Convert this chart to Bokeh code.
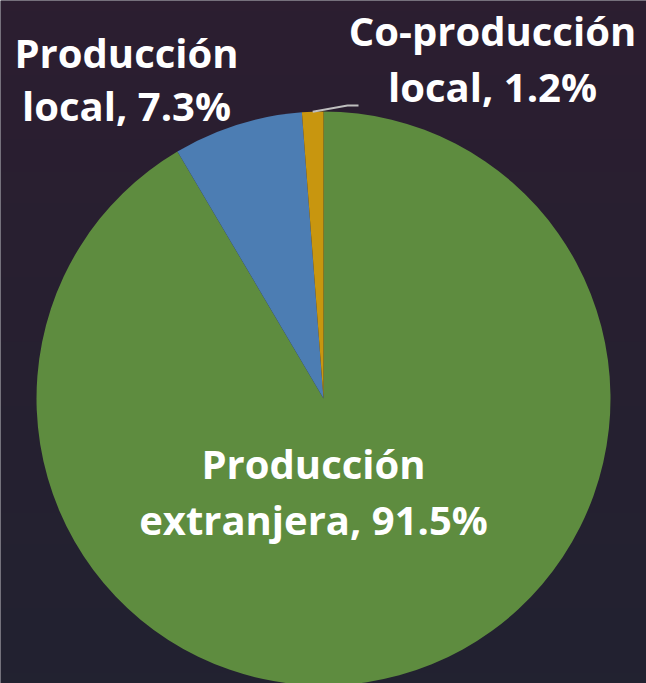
from bokeh.plotting import figure
from bokeh.models import ColumnDataSource, Range1d
from bokeh.core.properties import value
from bokeh.embed import file_html
from bokeh.resources import INLINE
import numpy as np

categories = ["Producción extranjera", "Producción local", "Co-producción local"]
shares = [91.5, 7.3, 1.2]
label_lines = [["Producción", "extranjera, 91.5%"], ["Producción", "local, 7.3%"], ["Co-producción", "local, 1.2%"]]
colors = ["#5e8c3f", "#4c7db3", "#c8960f"]

W, H = 646, 683
cx, cy, r = 323, H - 398, 287

vals = np.array(shares, dtype=float)
frac = vals / vals.sum()
cum_end = np.cumsum(frac)
cum_start = cum_end - frac
start = np.pi / 2 - cum_end * 2 * np.pi
end = np.pi / 2 - cum_start * 2 * np.pi

src = ColumnDataSource(dict(cat=categories, start=start, end=end, color=colors))

p = figure(width=W, height=H, x_range=Range1d(0, W), y_range=Range1d(0, H),
           output_backend="svg", toolbar_location=None, min_border=0)
p.axis.visible = False
p.grid.visible = False
p.outline_line_color = None
p.background_fill_color = "#231e2e"
p.border_fill_color = "#231e2e"

# subtle background gradient (decorative)
ny = 64
grad = np.zeros((ny, 1), dtype=np.uint32)
view = grad.view(dtype=np.uint8).reshape((ny, 1, 4))
for i in range(ny):
    t = i / (ny - 1)  # 0 bottom -> 1 top
    rr = int(0x22 + (0x2c - 0x22) * t)
    gg = int(0x22 + (0x1e - 0x22) * t)
    bb = int(0x30 + (0x30 - 0x30) * t)
    view[i, 0] = [rr, gg, bb, 255]
p.image_rgba(image=[grad], x=0, y=0, dw=W, dh=H)

p.wedge(x=cx, y=cy, radius=r, start_angle="start", end_angle="end",
        fill_color="color", line_color=None, source=src)

# leader line for the small slice
mid = (start[2] + end[2]) / 2
x0, y0 = cx + r * np.cos(mid), cy + r * np.sin(mid)
p.line([x0, 347, 358], [y0, H - 105, H - 105], line_color="#bfbfbf", line_width=2)

label_pos = [(313, [H - 463, H - 519]), (126, [H - 52, H - 105]), (492, [H - 30, H - 86])]
tx, ty, tt = [], [], []
for (lx, ys), lines in zip(label_pos, label_lines):
    for yy, t in zip(ys, lines):
        tx.append(lx); ty.append(yy); tt.append(t)
p.text(x=tx, y=ty, text=tt, text_font=value("Open Sans"), text_font_style="bold",
       text_font_size="40px", text_color="white", text_align="center", text_baseline="middle")

open("out.html", "w").write(file_html(p, INLINE))
